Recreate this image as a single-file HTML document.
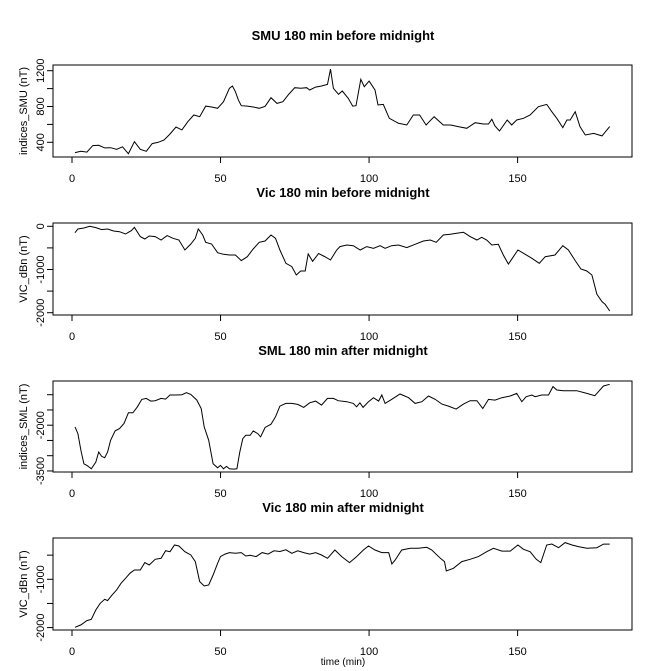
<!DOCTYPE html>
<html><head><meta charset="utf-8"><style>
body{margin:0;background:#fff}
svg{display:block;font-family:"Liberation Sans",Arial,sans-serif}
</style></head><body>
<svg id="c" width="672" height="671" viewBox="0 0 672 671"></svg>
<script>
// Panel 1: SMU before midnight
const smuT=[1,3,5,7,9,11,13,15,17,19,21,23,25,27,29,31,33,35,37,39,41,43,45,47,49,51,53,54,55,56,57,59,61,63,65,67,69,71,73,75,77,79,80,82,84,86,87,88,89.7,91,93,94.5,95.6,97.2,98.4,100,102,103,104.8,106.8,109.9,112.7,114.9,117,119.2,121.9,125,127.5,130,132.9,135.7,138.5,140.2,141.3,142.4,143.9,146.5,148,149.7,152,154.2,157,159.8,161.5,163.2,165.2,166.6,167.7,169.4,171,172.8,175.6,178.4,181];
const smuV=[285,300,290,363,367,337,340,322,350,273,407,322,300,385,400,426,493,571,538,631,705,686,805,794,780,854,1003,1029,965,872,809,805,794,780,802,898,835,854,939,1010,1003,1010,984,1017,1029,1047,1218,1003,936,973,891,805,809,1103,1021,1084,984,817,824,668,612,593,705,705,593,686,593,593,575,556,619,605,605,657,582,526,649,593,649,668,705,798,824,742,668,564,649,649,742,575,482,500,471,575];
// Panel 2: Vic before midnight
const vic1T=[1,2,4,6,8,10,12,14,16,18,20,21,23,24.5,26,28,30,32,34,36,38,40,41.5,42.5,44,45,47,49,51,53,55,57,59,61,63,65,67,68.5,70,72,74,75.5,77,78.5,79.5,81,83,85,87,89.1,90.2,92.5,94.7,97,99.2,101.5,103.7,105.4,107.6,109.9,112.7,115.5,118.3,120.6,122.6,125,127.3,129.5,131.8,134,136.3,137.9,139.6,141.3,143.5,145.2,146.9,148.6,150.1,152,154.8,157.3,159.3,162.6,165.2,167.1,169.4,171.3,173.3,175,176.7,178.4,179.5,181];
const vic1V=[-147,-62,-39,0,-31,-77,-62,-108,-124,-178,-100,-23,-239,-293,-224,-239,-317,-216,-278,-317,-548,-409,-278,-62,-201,-371,-409,-610,-648,-664,-664,-795,-703,-525,-371,-340,-201,-278,-548,-857,-934,-1127,-1034,-1034,-640,-810,-630,-700,-780,-548,-471,-432,-448,-548,-471,-510,-448,-510,-448,-432,-494,-417,-340,-317,-371,-201,-185,-162,-139,-239,-317,-255,-317,-432,-417,-664,-872,-703,-548,-625,-741,-857,-703,-664,-448,-548,-795,-988,-1034,-1127,-1575,-1745,-1806,-1961];
// Panel 3: SML after midnight
const smlT=[1,2,3,4,5,6.5,8,9,10,11,12,13,14.5,16,17.5,19,20.5,22,23.5,25,26.5,28,30,31.5,33,35,37,38.5,40,42,43.5,44.5,46,47.5,49,50,51,52,53,54.5,55.5,56.5,57.5,58.5,60,61,62.5,63.5,65,67,68.5,70,72,74,76,78,80,82,84,86,88,89.6,92.5,94.7,95.8,96.9,98,99.8,101.5,103.2,104.3,105.4,107.6,110.4,113.3,115.5,117.8,120,122.3,124.5,126.7,129.3,131.8,134,136.3,138.3,140.2,142.4,144.7,147.5,149.7,151.4,152.9,154.8,155.9,158.1,160.4,161.9,163.2,165.4,169.9,173.3,176,177.2,178.9,181];
const smlV=[-2055,-2275,-2824,-3264,-3319,-3429,-3209,-2879,-3022,-3066,-2879,-2495,-2187,-2110,-1945,-1593,-1593,-1396,-1154,-1121,-1209,-1198,-1121,-1143,-1011,-1011,-1000,-934,-989,-1176,-1451,-2055,-2495,-3264,-3396,-3319,-3429,-3352,-3429,-3440,-3429,-2879,-2440,-2330,-2330,-2187,-2275,-2385,-2077,-1967,-1725,-1374,-1286,-1286,-1319,-1418,-1264,-1209,-1341,-1121,-1121,-1198,-1231,-1286,-1396,-1264,-1418,-1231,-1099,-1209,-1011,-1286,-1154,-978,-1099,-1286,-1231,-1044,-1154,-1308,-1374,-1473,-1308,-1198,-1198,-1451,-1154,-1176,-1099,-1044,-956,-1231,-1066,-1011,-1066,-1011,-1011,-736,-846,-868,-868,-956,-1033,-901,-714,-659];
// Panel 4: Vic after midnight
const vic2T=[1,3,5,6.5,8,9.5,11,12,13.5,15,16.5,18,19.5,21,23,24.5,26,28,30,31.5,33,34.5,36,38,40,41.5,43,44.5,46,47.5,49,50,51.5,53,55,57,58.5,60,62,64,66,68,70,72,74,76,78,80,82,84,86,88.5,90.8,93.4,95.8,98.1,99.8,102,104.3,106.6,107.7,108.8,111,113.9,116.6,119.4,121.1,124,125.4,126,128.4,131.2,134,136.8,139.6,141.9,144.7,147.5,150.1,152,154.2,156.3,157.8,159.8,161.5,163.8,166,168.3,170.5,173.3,176.7,178.9,181];
const vic2V=[-1994,-1945,-1856,-1828,-1635,-1497,-1414,-1442,-1324,-1221,-1083,-979,-876,-807,-807,-655,-703,-586,-565,-407,-428,-289,-310,-428,-496,-634,-1048,-1138,-1117,-910,-669,-531,-479,-448,-462,-448,-517,-503,-531,-448,-479,-410,-424,-390,-462,-410,-448,-479,-448,-496,-565,-393,-531,-655,-531,-393,-310,-393,-448,-448,-683,-600,-393,-359,-359,-338,-393,-565,-634,-828,-772,-634,-586,-531,-428,-359,-417,-417,-289,-379,-428,-586,-655,-289,-269,-345,-241,-289,-324,-359,-345,-272,-272];
const xTicks=[0,50,100,150];

const NS="http://www.w3.org/2000/svg";
const svg=document.getElementById('c');
function mk(tag,attrs,parent){const e=document.createElementNS(NS,tag);for(const k in attrs)e.setAttribute(k,attrs[k]);(parent||svg).appendChild(e);return e;}
const xs=v=>72+(v-0)*2.9707;

const panels=[
 {name:'smu',title:'SMU 180 min before midnight',ylab:'indices_SMU (nT)',top:65,bot:157,t:smuT,v:smuV,ref:400,refY:142.3,ppu:0.0895,ticks:[400,600,800,1000,1200],labels:[400,800,1200],titleY:40},
 {name:'vic-before',title:'Vic 180 min before midnight',ylab:'VIC_dBn (nT)',top:223,bot:315,t:vic1T,v:vic1V,ref:0,refY:226.3,ppu:0.0432,ticks:[0,-500,-1000,-1500,-2000],labels:[0,-1000,-2000],titleY:197},
 {name:'sml',title:'SML 180 min after midnight',ylab:'indices_SML (nT)',top:381,bot:472,t:smlT,v:smlV,ref:-1000,refY:394.7,ppu:0.0305,ticks:[-1000,-1500,-2000,-2500,-3000,-3500],labels:[-2000,-3500],titleY:355},
 {name:'vic-after',title:'Vic 180 min after midnight',ylab:'VIC_dBn (nT)',top:538,bot:630,t:vic2T,v:vic2V,ref:-1000,refY:579.3,ppu:0.0483,ticks:[-500,-1000,-1500,-2000],labels:[-1000,-2000],titleY:512}
];
panels.forEach(p=>{
 const g=mk('g',{});
 
 
 const ys=v=>p.refY-(v-p.ref)*p.ppu;
 const t=mk('text',{x:343,y:p.titleY,'text-anchor':'middle','font-size':13,'font-weight':'bold',fill:'#000'},g);
 t.textContent=p.title;
 
 
 const box=mk('rect',{x:53,y:p.top,width:579,height:p.bot-p.top,fill:'none',stroke:'#000','stroke-width':1},g);
 
 
 // x axis
 const xa=mk('g',{},g);
 
 
 mk('line',{x1:xs(xTicks[0]),x2:xs(xTicks[xTicks.length-1]),y1:p.bot,y2:p.bot,stroke:'#000'},xa);
 xTicks.forEach(v=>{
  mk('line',{x1:xs(v),x2:xs(v),y1:p.bot,y2:p.bot+6,stroke:'#000'},xa);
  const l=mk('text',{x:xs(v),y:p.bot+25,'text-anchor':'middle','font-size':11,fill:'#000'},xa);
  l.textContent=v;
  
  
 });
 // y axis
 const ya=mk('g',{},g);
 
 
 mk('line',{x1:53,x2:53,y1:ys(p.ticks[0]),y2:ys(p.ticks[p.ticks.length-1]),stroke:'#000'},ya);
 p.ticks.forEach(v=>mk('line',{x1:47,x2:53,y1:ys(v),y2:ys(v),stroke:'#000'},ya));
 p.labels.forEach(v=>{
  const l=mk('text',{x:0,y:0,'text-anchor':'middle','font-size':11,fill:'#000',transform:`translate(44,${ys(v)}) rotate(-90)`},ya);
  l.textContent=v;
  
  
 });
 const yl=mk('text',{x:0,y:0,'text-anchor':'middle','font-size':11,fill:'#000',transform:`translate(27,${(p.top+p.bot)/2}) rotate(-90)`},g);
 yl.textContent=p.ylab;
 
 
 const d=p.t.map((tt,i)=>(i?'L':'M')+xs(tt).toFixed(1)+','+ys(p.v[i]).toFixed(1)).join('');
 const path=mk('path',{d:d,fill:'none',stroke:'#000','stroke-width':1},g);
 
 
});
const xt=mk('text',{x:343,y:665,'text-anchor':'middle','font-size':10,fill:'#000'});
xt.textContent='time (min)';


</script>
</body></html>
